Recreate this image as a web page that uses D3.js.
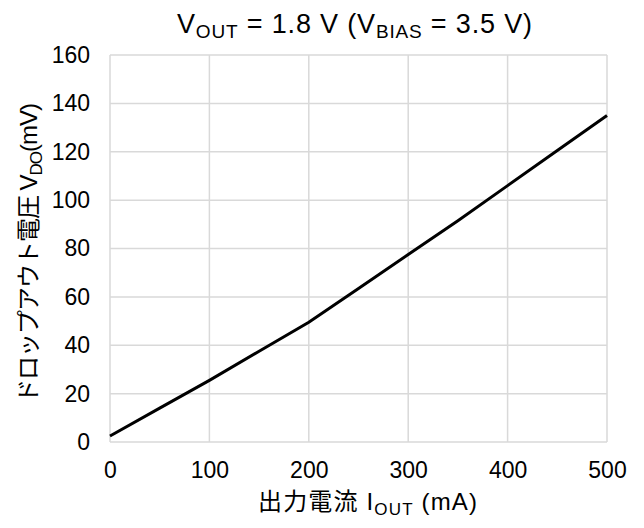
<!DOCTYPE html>
<html><head><meta charset="utf-8">
<script src="https://cdn.jsdelivr.net/npm/d3@7"></script>
<style>body{margin:0;background:#fff}text{font-family:"Liberation Sans",Arial,"Noto Sans CJK JP",sans-serif;fill:#000}</style>
</head><body>
<svg id="c" width="644" height="528"></svg>
<script>
const currents = [0, 50, 100, 150, 200, 250, 300, 350, 400, 450, 500];
const dropout = [2.5, 14, 25.5, 37.5, 49.5, 63.5, 77.5, 91.5, 106, 120.5, 135];
const xTicks = [0, 100, 200, 300, 400, 500];
const yTicks = [0, 20, 40, 60, 80, 100, 120, 140, 160];

const svg = d3.select("#c");
const L = 110, R = 607, T = 55, B = 442;
const x = d3.scaleLinear().domain([0, 500]).range([L, R]);
const y = d3.scaleLinear().domain([0, 160]).range([B, T]);

const grid = svg.append("g");
grid.selectAll("line.v").data(xTicks).join("line")
  .attr("x1", d => x(d)).attr("x2", d => x(d)).attr("y1", T).attr("y2", B)
  .attr("stroke", "#d9d9d9").attr("stroke-width", 1.5);
grid.selectAll("line.h").data(yTicks).join("line")
  .attr("y1", d => y(d)).attr("y2", d => y(d)).attr("x1", L).attr("x2", R)
  .attr("stroke", "#d9d9d9").attr("stroke-width", 1.5);

const xa = svg.append("g").attr("transform", `translate(0,${B})`)
  .call(d3.axisBottom(x).tickValues(xTicks).tickSize(0).tickPadding(20));
xa.select(".domain").remove();
xa.selectAll("text").attr("font-size", 23).attr("dy", "0.71em");

const ya = svg.append("g").attr("transform", `translate(${L},0)`)
  .call(d3.axisLeft(y).tickValues(yTicks).tickSize(0).tickPadding(20));
ya.select(".domain").remove();
ya.selectAll("text").attr("font-size", 23);

svg.append("path").datum(currents.map((c, i) => [c, dropout[i]]))
  .attr("fill", "none").attr("stroke", "#000").attr("stroke-width", 3)
  .attr("d", d3.line().x(d => x(d[0])).y(d => y(d[1])));

// title
const t = svg.append("text").attr("x", 354.5).attr("y", 33).attr("text-anchor", "middle")
  .attr("font-size", 27).attr("textLength", 355).attr("lengthAdjust", "spacing");
t.append("tspan").text("V");
t.append("tspan").text("OUT").attr("font-size", 19).attr("dy", 5);
t.append("tspan").text(" = 1.8 V (V").attr("dy", -5);
t.append("tspan").text("BIAS").attr("font-size", 19).attr("dy", 5);
t.append("tspan").text(" = 3.5 V)").attr("dy", -5);

// x label
const xl = svg.append("text").attr("x", 367.5).attr("y", 510).attr("text-anchor", "middle")
  .attr("font-size", 24).attr("textLength", 219).attr("lengthAdjust", "spacing");
xl.append("tspan").text("出力電流 I");
xl.append("tspan").text("OUT").attr("font-size", 17).attr("dy", 5);
xl.append("tspan").text(" (mA)").attr("dy", -5);

// y label
const yl = svg.append("text").attr("transform", "translate(37,253) rotate(-90)").attr("text-anchor", "middle")
  .attr("font-size", 24).attr("textLength", 300).attr("lengthAdjust", "spacing");
yl.append("tspan").text("ドロップアウト電圧 V");
yl.append("tspan").text("DO").attr("font-size", 17).attr("dy", 5);
yl.append("tspan").text("(mV)").attr("dy", -5);
</script>
</body></html>
